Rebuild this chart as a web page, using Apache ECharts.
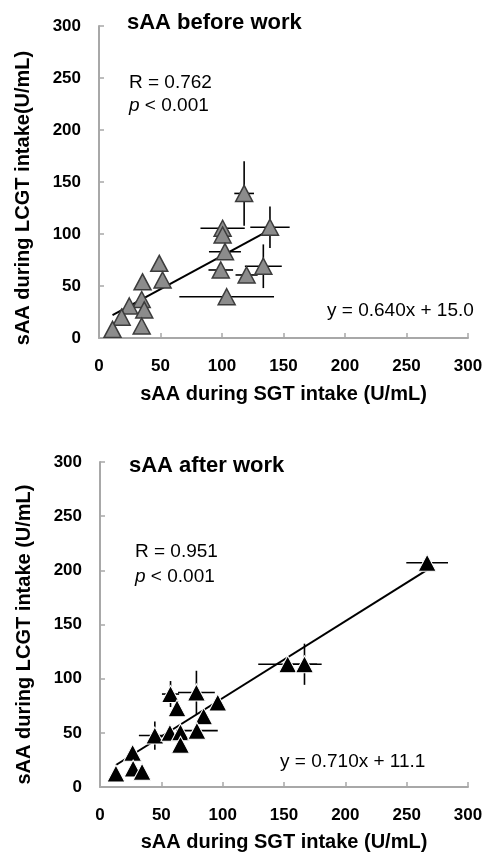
<!DOCTYPE html>
<html>
<head>
<meta charset="utf-8">
<script src="https://cdn.jsdelivr.net/npm/echarts@6/dist/echarts.min.js"></script>
<style>
html,body{margin:0;padding:0;background:#fff;}
#c{width:489px;height:853px;}
</style>
</head>
<body>
<div id="c"></div>
<script>
// ---- Data ----
// Panel 1: sAA before work
const beforeSGT     = [118, 100.5, 100.5, 139, 102.4, 99, 120, 133.6, 103.8, 49, 35.4, 51.7, 34.7, 24.6, 36.8, 18.4, 34.7, 11];
const beforeLCGT    = [139, 105.5, 99, 106.5, 83, 65.4, 60.6, 69, 39.7, 71.8, 54, 55.8, 37, 30.8, 27, 20, 11.5, 8.3];
const beforeSGTerr  = [8, 18, 0, 16, 13, 10, 9, 15, 38.5, 0, 0, 0, 3, 0, 0, 0, 0, 0];
const beforeLCGTerr = [31, 3, 0, 20, 2, 0, 0, 21, 0, 0, 0, 3, 3, 0, 0, 0, 0, 0];
const beforeFit     = [[11, 22.0], [139, 104.0]];
// Panel 2: sAA after work
const afterSGT      = [57.5, 78.6, 62.8, 96, 84.5, 44.7, 57, 65.6, 79, 65.6, 26.6, 13, 27, 34.3, 153, 166.7, 266.7];
const afterLCGT     = [85.8, 87.3, 72.7, 78, 65.3, 47.5, 50, 50.6, 52, 39, 31.6, 12.4, 17, 14, 113.3, 113.3, 207];
const afterSGTerr   = [7, 15, 0, 0, 0, 13, 0, 0, 17, 0, 0, 0, 0, 0, 24, 14, 17];
const afterLCGTerr  = [12, 20, 0, 0, 0, 13, 0, 0, 0, 0, 0, 0, 0, 0, 0, 19, 4];
const afterFit      = [[13, 20.3], [268, 201.4]];
// Axis ticks
const axisMin = 0, axisMax = 300, axisStep = 50;

const FONT = '"Liberation Sans", Arial, sans-serif';

function pts(xs, ys){ return xs.map((x,i)=>[x, ys[i]]); }
function errData(xs, ys, xe, ye){ return xs.map((x,i)=>[x, ys[i], xe[i], ye[i]]); }

function errRender(params, api){
  const x = api.value(0), y = api.value(1), xe = api.value(2), ye = api.value(3);
  const children = [];
  const st = {stroke:'#000', lineWidth:1.6};
  if (xe > 0){
    const a = api.coord([x - xe, y]), b = api.coord([x + xe, y]);
    children.push({type:'line', shape:{x1:a[0], y1:a[1], x2:b[0], y2:b[1]}, style:st});
  }
  if (ye > 0){
    const a = api.coord([x, y - ye]), b = api.coord([x, y + ye]);
    children.push({type:'line', shape:{x1:a[0], y1:a[1], x2:b[0], y2:b[1]}, style:st});
  }
  return {type:'group', children};
}

const axisCommon = {
  type:'value', min:axisMin, max:axisMax, interval:axisStep,
  axisLine:{show:true, lineStyle:{color:'#a8a8a8', width:2}},
  axisTick:{show:true, inside:true, length:5, lineStyle:{color:'#a8a8a8', width:1.5}},
  splitLine:{show:false},
  axisLabel:{color:'#000', fontFamily:FONT, fontWeight:'bold', fontSize:17},
  nameTextStyle:{color:'#000', fontFamily:FONT, fontWeight:'bold', fontSize:20}
};

function xAxis(gi, gap){
  return Object.assign({}, axisCommon, {
    gridIndex:gi, name:'sAA during SGT intake (U/mL)', nameLocation:'middle', nameGap:gap,
    axisLabel:Object.assign({}, axisCommon.axisLabel, {margin:20})
  });
}
function yAxis(gi, name, pad){
  return Object.assign({}, axisCommon, {
    gridIndex:gi, name:name, nameLocation:'middle', nameGap:66,
    axisLabel:Object.assign({}, axisCommon.axisLabel, {margin:18}),
    nameTextStyle:Object.assign({}, axisCommon.nameTextStyle, {padding:pad})
  });
}

const chart = echarts.init(document.getElementById('c'), null, {renderer:'canvas'});

const txt = (x, y, t, size) => ({type:'text', x:x, y:y, style:{text:t, fill:'#000', font: size+'px '+FONT, verticalAlign:'middle', align:'left',
  rich:{i:{fontStyle:'italic', fontSize:size, fontFamily:FONT, fill:'#000'}}}});

chart.setOption({
  animation:false,
  backgroundColor:'#fff',
  title:[
    {text:'sAA before work', left:122, top:7, textStyle:{fontFamily:FONT, fontWeight:'bold', fontSize:22, color:'#000'}},
    {text:'sAA after work', left:124, top:450, textStyle:{fontFamily:FONT, fontWeight:'bold', fontSize:22, color:'#000'}}
  ],
  grid:[
    {left:99, top:26, width:369, height:312},
    {left:100, top:462, width:368, height:326}
  ],
  xAxis:[xAxis(0, 46), xAxis(1, 45)],
  yAxis:[yAxis(0, 'sAA during LCGT intake(U/mL)', [0, 32, 0, 0]), yAxis(1, 'sAA during LCGT intake (U/mL)', [0, 20, 0, 0])],
  graphic:[
    txt(129, 83, 'R = 0.762', 19),
    txt(129, 106, '{i|p} < 0.001', 19),
    txt(327, 311, 'y = 0.640x + 15.0', 19),
    txt(135, 552, 'R = 0.951', 19),
    txt(135, 577, '{i|p} < 0.001', 19),
    txt(280, 762, 'y = 0.710x + 11.1', 19)
  ],
  series:[
    {type:'custom', xAxisIndex:0, yAxisIndex:0, renderItem:errRender, data:errData(beforeSGT, beforeLCGT, beforeSGTerr, beforeLCGTerr), z:1, silent:true},
    {type:'line', xAxisIndex:0, yAxisIndex:0, data:beforeFit, symbol:'none', lineStyle:{color:'#000', width:2}, z:2},
    {type:'scatter', xAxisIndex:0, yAxisIndex:0, data:pts(beforeSGT, beforeLCGT), symbol:'triangle', symbolSize:[17,16],
      itemStyle:{color:'#8c8c8c', borderColor:'#3c3c3c', borderWidth:1.5, opacity:1}, z:3},
    {type:'custom', xAxisIndex:1, yAxisIndex:1, renderItem:errRender, data:errData(afterSGT, afterLCGT, afterSGTerr, afterLCGTerr), z:1, silent:true},
    {type:'line', xAxisIndex:1, yAxisIndex:1, data:afterFit, symbol:'none', lineStyle:{color:'#000', width:2}, z:2},
    {type:'scatter', xAxisIndex:1, yAxisIndex:1, data:pts(afterSGT, afterLCGT), symbol:'triangle', symbolSize:[18,17],
      itemStyle:{color:'#000', borderColor:'#fff', borderWidth:1, opacity:1}, z:3}
  ]
});
</script>
</body>
</html>
